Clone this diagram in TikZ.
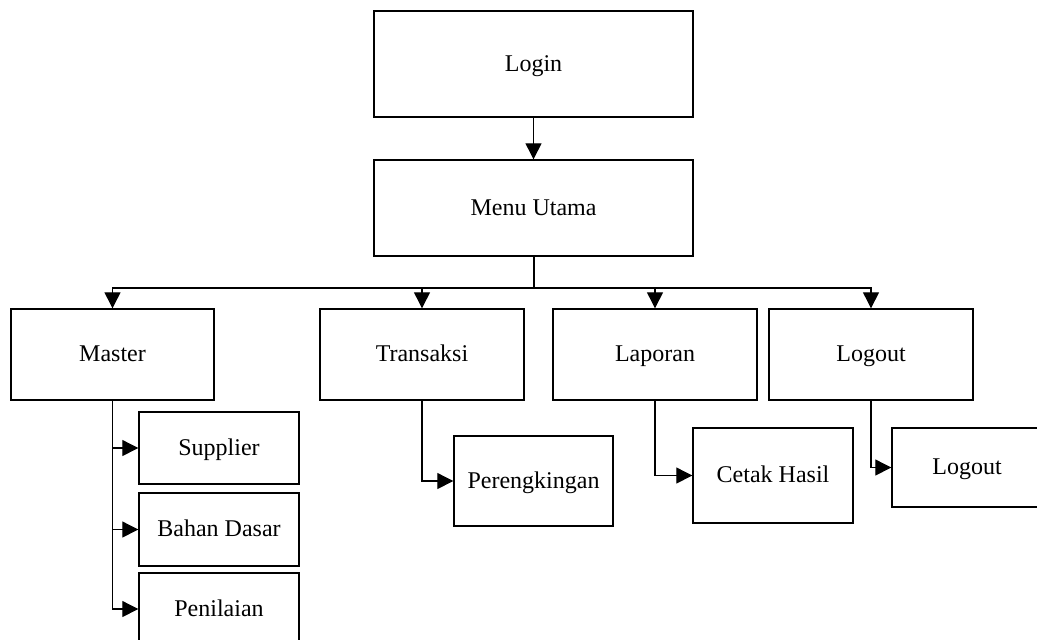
\documentclass[tikz,border=0pt]{standalone}
\usepackage{fontspec}
\setmainfont{Liberation Serif}
\usetikzlibrary{arrows.meta}

\tikzset{
  menubox/.style={draw,line width=0.7pt,rectangle,inner sep=0pt,
    text height=0.85em,text depth=0.12em,
    font=\fontsize{12}{14}\selectfont},
  arr/.style={line width=0.6pt,-{Triangle[length=8pt,width=8pt]}}
}

\begin{document}
\begin{tikzpicture}[x=0.5pt,y=-0.5pt]
        \clip (0,0) rectangle (1037,639);

        % main menu
        \node[menubox,minimum width=159.5pt,minimum height=53pt] (login) at (533.5,64) {Login};
        \node[menubox,minimum width=159.5pt,minimum height=48pt] (menu) at (533.5,208) {Menu Utama};
        \coordinate (bus) at (533.5,288);

        % first level
        \node[menubox,minimum width=101.5pt,minimum height=45.5pt] (master) at (112.5,354.5) {Master};
        \node[menubox,minimum width=102pt,minimum height=45.5pt] (transaksi) at (422,354.5) {Transaksi};
        \node[menubox,minimum width=102pt,minimum height=45.5pt] (laporan) at (655,354.5) {Laporan};
        \node[menubox,minimum width=102pt,minimum height=45.5pt] (logout) at (871,354.5) {Logout};

        % second level
        \node[menubox,minimum width=80pt,minimum height=36pt] (supplier) at (219,448) {Supplier};
        \node[menubox,minimum width=80pt,minimum height=36.5pt] (bahan) at (219,529.5) {Bahan Dasar};
        \node[menubox,minimum width=80pt,minimum height=36pt] (penilaian) at (219,609) {Penilaian};
        \node[menubox,minimum width=79.5pt,minimum height=45pt] (rangking) at (533.5,481) {Perengkingan};
        \node[menubox,minimum width=80pt,minimum height=47.5pt] (cetak) at (773,475.5) {Cetak Hasil};
        \node[menubox,minimum width=75pt,minimum height=39.5pt] (keluar) at (967,467.5) {Logout};

        % connectors
        \draw[arr] (login) -- (menu);
        \draw[line width=1pt] (menu.south) -- (bus);
        \foreach \n in {master,transaksi,laporan,logout}
            \draw[arr] (bus) -| (\n.north);

        \foreach \n in {supplier,bahan,penilaian}
            \draw[arr] (master.south) |- (\n.west);
        \draw[arr] (transaksi.south) |- (rangking.west);
        \draw[arr] (laporan.south) |- (cetak.west);
        \draw[arr] (logout.south) |- (keluar.west);
    \end{tikzpicture}
\end{document}
